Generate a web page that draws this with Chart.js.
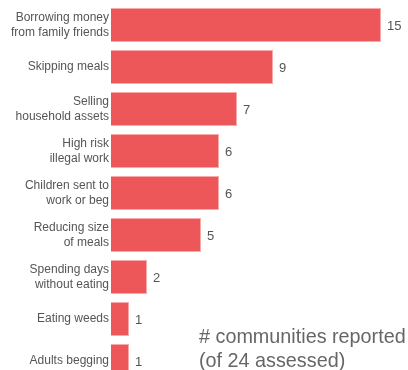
<!DOCTYPE html>
<html>
<head>
<meta charset="utf-8">
<script src="https://cdn.jsdelivr.net/npm/chart.js@4"></script>
<style>
    html, body {
        margin: 0;
        padding: 0;
        background: #ffffff;
        overflow: hidden;
    }
    #wrap {
        position: relative;
        width: 408px;
        height: 370px;
        overflow: hidden;
    }
    #estrategiasChart {
        position: absolute;
        left: 0;
        top: 0;
    }
    #nota {
        position: absolute;
        left: 199px;
        top: 324px;
        font-family: "Liberation Sans", Arial, sans-serif;
        font-size: 19.8px;
        line-height: 24px;
        color: #666666;
        white-space: nowrap;
    }
</style>
</head>
<body>
<div id="wrap">
    <canvas id="estrategiasChart" width="408" height="386"></canvas>
    <div id="nota"># communities reported<br>(of 24 assessed)</div>
</div>

<script>
const estrategias = [
    ["Borrowing money", "from family friends"],
    "Skipping meals",
    ["Selling", "household assets"],
    ["High risk", "illegal work"],
    ["Children sent to", "work or beg"],
    ["Reducing size", "of meals"],
    ["Spending days", "without eating"],
    "Eating weeds",
    "Adults begging"
];

const comunidades = [15, 9, 7, 6, 6, 5, 2, 1, 1];

const corBarra = "#ed5759";
const corTexto = "#555555";

// escreve o valor ao lado de cada barra
const rotulosValor = {
    id: "rotulosValor",
    afterDatasetsDraw(chart) {
        const ctx = chart.ctx;
        const meta = chart.getDatasetMeta(0);
        ctx.save();
        ctx.font = "13px 'Liberation Sans', Arial, sans-serif";
        ctx.fillStyle = corTexto;
        ctx.textAlign = "left";
        ctx.textBaseline = "middle";
        meta.data.forEach((barra, i) => {
            ctx.fillText(String(comunidades[i]), barra.x + 6, barra.y + 1);
        });
        ctx.restore();
    }
};

const ctx = document.getElementById("estrategiasChart").getContext("2d");

new Chart(ctx, {
    type: "bar",

    data: {
        labels: estrategias,
        datasets: [{
            data: comunidades,
            backgroundColor: corBarra,
            borderColor: "#f8a9aa",
            borderWidth: 1,
            barPercentage: 0.81,
            categoryPercentage: 1
        }]
    },

    options: {
        indexAxis: "y",
        responsive: false,
        animation: false,
        layout: {
            padding: { top: 4, bottom: 4, right: 9, left: 0 }
        },
        plugins: {
            legend: { display: false },
            tooltip: { enabled: false }
        },
        scales: {
            x: {
                display: false,
                min: 0,
                max: 16
            },
            y: {
                grid: { display: false, drawTicks: false },
                border: { display: false },
                afterFit(scale) {
                    // largura fixa e sem folga extra em cima/embaixo
                    scale.width = 111;
                    scale.paddingTop = 0;
                    scale.paddingBottom = 0;
                },
                ticks: {
                    color: corTexto,
                    padding: 2,
                    font: {
                        family: "'Liberation Sans', Arial, sans-serif",
                        size: 12,
                        lineHeight: 1.25
                    }
                }
            }
        }
    },

    plugins: [rotulosValor]
});
</script>
</body>
</html>
